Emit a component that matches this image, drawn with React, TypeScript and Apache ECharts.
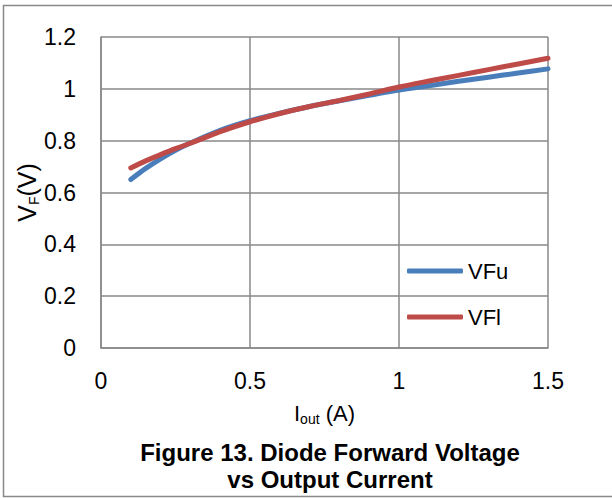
import React, { useEffect, useRef } from "react";
import * as echarts from "echarts";

const currents = [0.1, 0.15, 0.2, 0.25, 0.3, 0.4, 0.5, 0.6, 0.7, 0.8, 0.9, 1.0, 1.1, 1.2, 1.3, 1.4, 1.5];
const vfu = [0.650, 0.693, 0.730, 0.763, 0.791, 0.840, 0.877, 0.906, 0.932, 0.954, 0.975, 0.995, 1.012, 1.029, 1.045, 1.061, 1.077];
const vfl = [0.695, 0.722, 0.746, 0.769, 0.790, 0.835, 0.873, 0.905, 0.932, 0.955, 0.980, 1.007, 1.030, 1.052, 1.074, 1.096, 1.118];
const seriesNames = ["VFu", "VFl"];
const colors = ["#4a7ebb", "#be4b48"];

const FONT = "Arial, 'Liberation Sans', sans-serif";
const GRAY = "#898989";

export default function App() {
  const ref = useRef<HTMLDivElement>(null);
  useEffect(() => {
    document.body.style.margin = "0";
    const chart = echarts.init(ref.current!, null, { renderer: "svg" });
    const mk = (arr: number[]) => currents.map((x, i) => [x, arr[i]]);
    chart.setOption({
      animation: false,
      backgroundColor: "#ffffff",
      grid: { left: 101, right: 64, top: 37, bottom: 150 },
      xAxis: {
        type: "value",
        min: 0,
        max: 1.5,
        interval: 0.5,
        axisLine: { show: true, lineStyle: { color: GRAY, width: 1.5 } },
        axisTick: { show: false },
        splitLine: { show: true, lineStyle: { color: GRAY, width: 1.5 } },
        axisLabel: { color: "#000", fontSize: 23, fontFamily: FONT, margin: 21 },
        name: "{a|I}{b|out}{a| (A)}",
        nameLocation: "middle",
        nameGap: 52,
        nameMoveOverlap: false,
        nameTextStyle: {
          rich: {
            a: { fontSize: 22, fontFamily: FONT, color: "#000", lineHeight: 26 },
            b: { fontSize: 14, fontFamily: FONT, color: "#000", verticalAlign: "bottom", lineHeight: 14, padding: [12, 0, 0, 0] },
          },
        },
      },
      yAxis: {
        type: "value",
        min: 0,
        max: 1.2,
        interval: 0.2,
        axisLine: { show: true, lineStyle: { color: GRAY, width: 1.5 } },
        axisTick: { show: false },
        splitLine: { show: true, lineStyle: { color: GRAY, width: 1.5 } },
        axisLabel: { color: "#000", fontSize: 23, fontFamily: FONT, margin: 25 },
        name: "{a|V}{b|F}{a|(V)}",
        nameLocation: "middle",
        nameGap: 60,
        nameMoveOverlap: false,
        nameTextStyle: {
          rich: {
            a: { fontSize: 25, fontFamily: FONT, color: "#000", lineHeight: 29 },
            b: { fontSize: 14, fontFamily: FONT, color: "#000", verticalAlign: "bottom", lineHeight: 14, padding: [12, 0, 0, 0] },
          },
        },
      },
      legend: {
        orient: "vertical",
        left: 407,
        top: 260,
        padding: 0,
        icon: "roundRect",
        itemWidth: 56,
        itemHeight: 5,
        itemGap: 24,
        textStyle: { color: "#000", fontSize: 22, fontFamily: FONT },
        data: seriesNames,
      },
      graphic: [
        {
          type: "rect",
          shape: { x: 3.5, y: 5.5, width: 610, height: 491 },
          style: { fill: "none", stroke: GRAY, lineWidth: 1.5 },
          silent: true,
        },
        {
          type: "text",
          x: 330,
          y: 439,
          style: {
            text: "Figure 13. Diode Forward Voltage\nvs Output Current",
            fontFamily: FONT,
            fontWeight: "bold",
            fontSize: 24,
            lineHeight: 27,
            textAlign: "center",
            textVerticalAlign: "top",
            fill: "#000",
          },
        },
      ],
      series: [
        {
          name: seriesNames[0],
          type: "line",
          data: mk(vfu),
          smooth: 0.3,
          symbol: "none",
          color: colors[0],
          lineStyle: { width: 5, color: colors[0], cap: "round" },
        },
        {
          name: seriesNames[1],
          type: "line",
          data: mk(vfl),
          smooth: 0.3,
          symbol: "none",
          color: colors[1],
          lineStyle: { width: 5, color: colors[1], cap: "round" },
        },
      ],
    });
    return () => chart.dispose();
  }, []);
  return <div ref={ref} style={{ width: 612, height: 498 }} />;
}
